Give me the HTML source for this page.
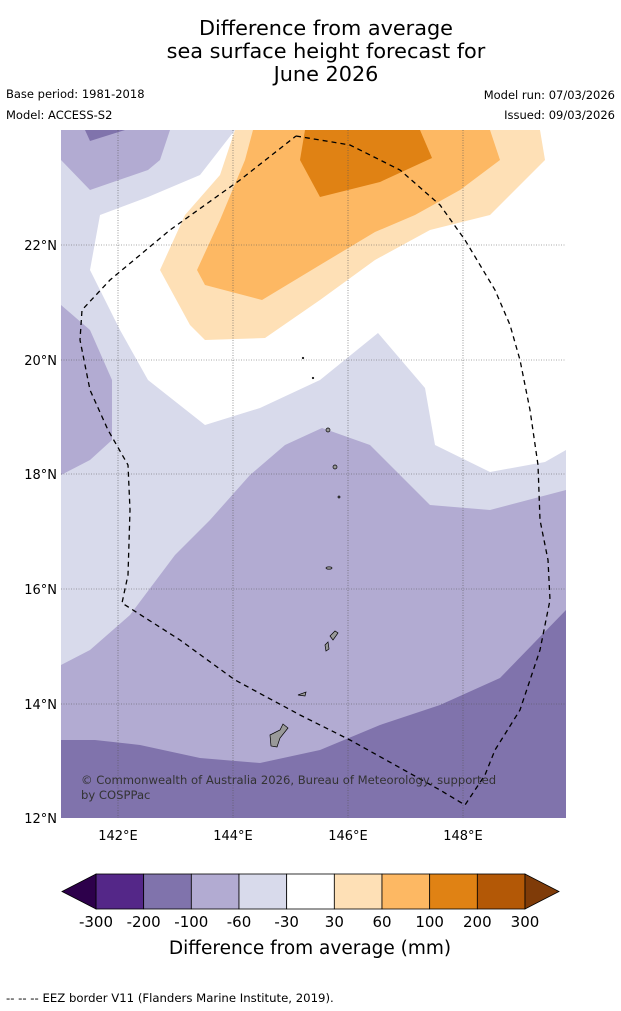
<!DOCTYPE html>
<html><head><meta charset="utf-8"><style>
body{margin:0;background:#fff;font-family:"DejaVu Sans",sans-serif;}
svg{display:block}
</style></head><body>
<svg width="621" height="1011" font-family="DejaVu Sans, sans-serif">
<text x="326" y="35" font-size="20.8" text-anchor="middle">Difference from average</text>
<text x="326" y="58" font-size="20.8" text-anchor="middle">sea surface height forecast for</text>
<text x="326" y="81" font-size="20.8" text-anchor="middle">June 2026</text>
<text x="6" y="98" font-size="11.5">Base period: 1981-2018</text>
<text x="6" y="119" font-size="11.5">Model: ACCESS-S2</text>
<text x="615" y="99" font-size="11.5" text-anchor="end">Model run: 07/03/2026</text>
<text x="615" y="119" font-size="11.5" text-anchor="end">Issued: 09/03/2026</text>
<defs><clipPath id="mc"><rect x="61" y="130" width="505" height="688"/></clipPath></defs>
<g clip-path="url(#mc)">
<rect x="61" y="130" width="505" height="688" fill="#d8daeb"/>
<polygon fill="#fff" points="235,130 200,175 148,197 100,215 90,270 100,290 120,330 148,380 205,425 260,408 320,380 378,333 425,388 435,445 490,472 545,462 566,450 566,130"/>
<polygon fill="#b2abd2" points="61,665 90,650 130,615 175,555 210,520 250,475 285,445 322,428 370,445 430,505 490,510 566,490 566,818 61,818"/>
<polygon fill="#b2abd2" points="61,305 90,330 112,380 112,440 90,460 61,475"/>
<polygon fill="#b2abd2" points="61,130 170,130 160,160 148,170 90,190 61,160"/>
<polygon fill="#8073ac" points="85,130 125,130 90,141"/>
<polygon fill="#8073ac" points="61,740 95,740 140,745 200,758 260,763 320,750 380,725 440,705 500,678 566,610 566,818 61,818"/>
<polygon fill="#fee0b6" points="235,130 540,130 545,160 490,215 430,230 375,260 320,300 265,338 205,340 190,325 160,270 185,215 220,175"/>
<polygon fill="#fdb863" points="253,130 490,130 500,160 460,190 415,215 375,232 320,265 262,300 205,285 197,270 220,220 245,160"/>
<polygon fill="#e08214" points="305,130 420,130 432,158 380,182 320,197 300,160"/>
<g stroke="#555" stroke-width="0.6" stroke-dasharray="1,1.5">
<line x1="118" y1="130" x2="118" y2="818"/><line x1="233" y1="130" x2="233" y2="818"/><line x1="348" y1="130" x2="348" y2="818"/><line x1="463" y1="130" x2="463" y2="818"/>
<line x1="61" y1="245" x2="566" y2="245"/><line x1="61" y1="360" x2="566" y2="360"/><line x1="61" y1="474" x2="566" y2="474"/><line x1="61" y1="589" x2="566" y2="589"/><line x1="61" y1="704" x2="566" y2="704"/>
</g>
<polyline fill="none" stroke="#000" stroke-width="1.3" stroke-dasharray="5,4" points="296,136 350,145 400,170 440,205 465,240 495,290 510,325 520,360 530,410 538,465 540,520 548,560 550,600 540,650 520,710 495,750 485,775 465,805 440,790 350,740 300,715 235,680 180,640 122,603 128,575 130,510 128,465 108,430 90,390 80,340 82,310 110,280 170,230 240,180 296,136"/>
<g fill="#999" stroke="#000" stroke-width="0.7">
<polygon points="270,735 280,730 283,724 288,728 280,738 277,747 271,746"/>
<polygon points="298,695 306,692 305,696"/>
<polygon points="330,636 335,631 338,633 333,640"/>
<polygon points="325,645 328,642 329,649 326,651"/>
<ellipse cx="329" cy="568" rx="3" ry="1.2"/><ellipse cx="335" cy="467" rx="2" ry="2"/><ellipse cx="328" cy="430" rx="2" ry="2"/>
<circle cx="339" cy="497" r="1"/><circle cx="303" cy="358" r="0.8"/><circle cx="313" cy="378" r="0.8"/>
</g>
<text x="81" y="784" font-size="11.6" fill="#333">© Commonwealth of Australia 2026, Bureau of Meteorology, supported</text>
<text x="81" y="799" font-size="11.6" fill="#333">by COSPPac</text>
</g>
<g font-size="13" text-anchor="middle">
<text x="118" y="840">142°E</text><text x="233" y="840">144°E</text><text x="348" y="840">146°E</text><text x="463" y="840">148°E</text>
</g>
<g font-size="13" text-anchor="end">
<text x="57" y="250">22°N</text><text x="57" y="365">20°N</text><text x="57" y="479">18°N</text><text x="57" y="594">16°N</text><text x="57" y="709">14°N</text><text x="57" y="823">12°N</text>
</g>
<g id="cbar"></g>
<text x="310" y="954" font-size="18.5" text-anchor="middle">Difference from average (mm)</text>
<text x="6" y="1002" font-size="11.7">--  --  -- EEZ border V11 (Flanders Marine Institute, 2019).</text>
</svg>
<script>
const levels=[-300,-200,-100,-60,-30,30,60,100,200,300];
const colors=["#542788","#8073ac","#b2abd2","#d8daeb","#ffffff","#fee0b6","#fdb863","#e08214","#b35806"];
const ns="http://www.w3.org/2000/svg";
const g=document.getElementById('cbar');
const x0=96,x1=525,y=874,h=35,w=(x1-x0)/(levels.length-1);
function mk(t,a){const e=document.createElementNS(ns,t);for(const k in a)e.setAttribute(k,a[k]);g.appendChild(e);return e;}
colors.forEach((c,i)=>{
 const r=mk('rect',{x:x0+i*w,y:y,width:w,height:h,fill:c,stroke:'#000','stroke-width':0.8});
 
 
});
const lt=mk('polygon',{points:`${x0},${y} ${x0},${y+h} 62,${y+h/2}`,fill:'#2d004b',stroke:'#000','stroke-width':0.8});


const rt=mk('polygon',{points:`${x1},${y} ${x1},${y+h} 559,${y+h/2}`,fill:'#7f3b08',stroke:'#000','stroke-width':0.8});


levels.forEach((v,i)=>{
 const t=mk('text',{x:x0+i*w,y:927,'font-size':15,'text-anchor':'middle'});
 t.textContent=v;
 
 
});
</script>
</body></html>
